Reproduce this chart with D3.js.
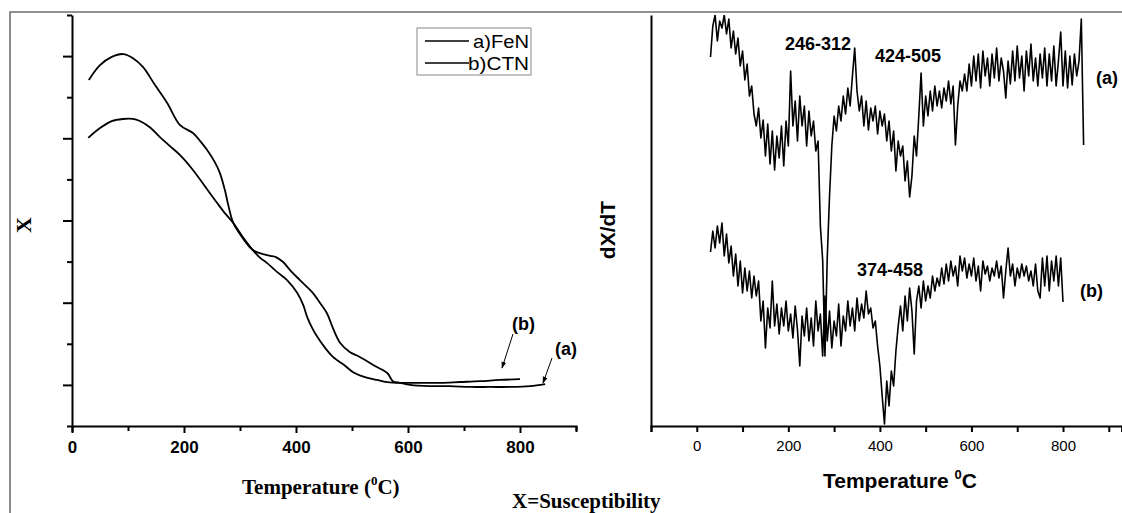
<!DOCTYPE html>
<html>
<head>
<meta charset="utf-8">
<script src="https://cdn.jsdelivr.net/npm/d3@7/dist/d3.min.js"></script>
<style>
  html, body { margin: 0; padding: 0; background: #fff; }
  svg { display: block; }
</style>
</head>
<body>
<svg id="chart" width="1122" height="513"></svg>
<script>
// ---------------- DATA ----------------
// Left panel: susceptibility X (arbitrary units) vs temperature (°C)
const fenTemp = [30,50,71,91,109,127,148,170,193,216,229,241,255,264,273,279,288,305,323,341,354,364,377,389,407,430,443,455,466,479,496,514,541,563,573,586,604,639,675,711,746,782,818,845];
const fenX    = [7.42,7.78,7.98,8.05,7.95,7.73,7.30,6.86,6.32,6.13,5.93,5.72,5.42,5.16,4.74,4.38,3.94,3.57,3.28,3.18,3.14,3.11,2.99,2.80,2.55,2.24,1.99,1.75,1.38,1.02,0.80,0.68,0.46,0.29,0.09,0.05,0.0,-0.03,-0.03,-0.05,-0.05,-0.05,-0.03,0.02];

const ctnTemp = [29,50,71,91,109,121,139,157,175,193,216,238,259,273,288,305,323,336,348,366,384,402,413,420,429,438,452,466,488,502,523,545,563,586,621,657,693,729,764,800];
const ctnX    = [6.01,6.25,6.42,6.47,6.47,6.42,6.27,6.03,5.81,5.59,5.23,4.82,4.43,4.18,3.94,3.60,3.28,3.09,2.97,2.75,2.55,2.24,1.94,1.65,1.38,1.17,0.90,0.68,0.46,0.31,0.19,0.12,0.07,0.05,0.05,0.05,0.07,0.09,0.12,0.14];

// Right panel: dX/dT (arbitrary units), sampled every 5 °C starting at 30 °C
const dTempA0 = 30, dTempB0 = 30, dStep = 5;
const dxdtA = [
  369,400,411,385,405,398,411,392,407,378,
  395,372,388,360,375,346,362,330,340,312,
  300,318,288,306,270,302,262,295,256,290,
  268,300,260,305,280,355,300,325,285,330,
  300,320,280,315,290,305,275,285,200,166,
  70,168,230,280,310,295,320,305,330,312,
  338,320,350,378,335,315,330,300,325,296,
  318,305,320,292,315,300,312,285,305,275,
  295,255,285,270,280,245,265,229,250,290,
  270,310,353,300,330,310,335,315,340,320,
  335,318,338,325,345,322,340,281,320,345,
  335,352,335,362,340,370,345,372,338,375,
  350,368,340,372,348,378,345,368,355,328,
  365,342,375,345,380,348,370,335,375,350,
  382,345,368,340,372,348,378,340,372,345,
  380,340,365,394,340,375,338,370,341,372,
  350,365,407,281];
const dxdtB = [
  174,195,178,200,183,203,170,192,163,180,
  150,172,140,165,133,158,135,155,128,150,
  130,145,105,125,78,118,98,145,100,122,
  92,118,100,125,95,112,88,120,96,60,
  110,90,118,85,108,80,125,95,112,70,
  130,85,115,78,105,90,122,80,110,95,
  125,100,118,95,128,105,122,108,135,112,
  118,98,105,80,60,30,2,45,20,55,
  40,75,100,120,95,130,105,138,115,72,
  125,140,118,145,125,140,128,150,135,148,
  140,158,142,162,145,165,150,160,140,170,
  155,168,148,162,150,168,145,160,135,165,
  152,160,145,158,150,165,148,160,128,155,
  178,150,162,140,158,148,162,150,160,145,
  155,140,162,135,128,168,140,170,135,165,
  145,170,140,168,124];

// Tick values / labels
const leftXTicks  = [0,100,200,300,400,500,600,700,800,900];
const leftYTicks  = [-1,0,1,2,3,4,5,6,7,8,9];
const rightXTicks = [-100,0,100,200,300,400,500,600,700,800,900];
const legendLabels = ["a)FeN","b)CTN"];

// ---------------- DRAWING ----------------
const svg = d3.select("#chart");
const fontSans = "'Liberation Sans', Arial, sans-serif";
const fontSerif = "'Liberation Serif', 'Times New Roman', serif";

// outer frame
svg.append("path").attr("d","M10,520 L10,12 L1130,12")
  .attr("fill","none").attr("stroke","#6e6e6e").attr("stroke-width",1.6);

// scales
const xL = d3.scaleLinear().domain([0,900]).range([72,576]);
const yL = d3.scaleLinear().domain([-1,9]).range([426,15]);
const xR = d3.scaleLinear().domain([-100,928]).range([651,1121.6]);
const yR = d3.scaleLinear().domain([0,411]).range([426,15]);

// ---- Left axes ----
const gxL = svg.append("g").attr("transform","translate(0,426)")
  .call(d3.axisBottom(xL).tickValues(leftXTicks).tickSizeOuter(0).tickSize(6)
    .tickFormat(d => d % 200 === 0 && d <= 800 ? d : ""));
gxL.select(".domain").attr("stroke","#000").attr("stroke-width",2);
gxL.selectAll(".tick line").attr("stroke","#000").attr("stroke-width",2)
  .attr("y2", d => d % 200 === 0 ? 7 : 5);
gxL.selectAll(".tick text").attr("font-family",fontSans).attr("font-weight","bold")
  .attr("font-size",17).attr("fill","#000").attr("dy",0).attr("y",27);

const gyL = svg.append("g").attr("transform","translate(72,0)")
  .call(d3.axisLeft(yL).tickValues(leftYTicks).tickSizeOuter(0).tickFormat(""));
gyL.select(".domain").attr("stroke","#000").attr("stroke-width",2);
gyL.selectAll(".tick line").attr("stroke","#000").attr("stroke-width",2)
  .attr("x2", d => d % 2 === 0 ? -9 : -5);

// ---- Left curves ----
const lineL = d3.line().x(d => xL(d[0])).y(d => yL(d[1])).curve(d3.curveCatmullRom.alpha(0.5));
svg.append("path").datum(d3.zip(fenTemp, fenX)).attr("d", lineL)
  .attr("fill","none").attr("stroke","#000").attr("stroke-width",1.8);
svg.append("path").datum(d3.zip(ctnTemp, ctnX)).attr("d", lineL)
  .attr("fill","none").attr("stroke","#000").attr("stroke-width",1.8);

// legend
const lg = svg.append("g");
lg.append("rect").attr("x",417).attr("y",28).attr("width",114).attr("height",47)
  .attr("fill","#fff").attr("stroke","#888").attr("stroke-width",1);
legendLabels.forEach((t,i) => {
  const yy = 41 + i*22;
  lg.append("line").attr("x1",425).attr("x2",469).attr("y1",yy).attr("y2",yy)
    .attr("stroke","#000").attr("stroke-width",1.7);
  lg.append("text").attr("x", i === 0 ? 473 : 468).attr("y", yy + 7)
    .attr("font-family",fontSans).attr("font-size",19).attr("fill","#000")
    .attr("textLength", i === 0 ? 56 : 61).attr("lengthAdjust","spacingAndGlyphs").text(t);
});

// arrows + labels on left panel
const defs = svg.append("defs");
defs.append("marker").attr("id","arr").attr("viewBox","0 0 10 10").attr("refX",9).attr("refY",5)
  .attr("markerWidth",7).attr("markerHeight",7).attr("orient","auto")
  .append("path").attr("d","M0,1.5 L10,5 L0,8.5 Z").attr("fill","#000");
const annL = [
  {lab:"(b)", tx:512, ty:330, x1:513, y1:334, x2:502, y2:368},
  {lab:"(a)", tx:555, ty:355, x1:552, y1:358, x2:543, y2:383}
];
annL.forEach(a => {
  svg.append("text").attr("x",a.tx).attr("y",a.ty).attr("font-family",fontSans)
    .attr("font-weight","bold").attr("font-size",18).text(a.lab);
  svg.append("line").attr("x1",a.x1).attr("y1",a.y1).attr("x2",a.x2).attr("y2",a.y2)
    .attr("stroke","#000").attr("stroke-width",1).attr("marker-end","url(#arr)");
});

// left titles
svg.append("text").attr("transform","translate(31,225) rotate(-90)").attr("text-anchor","middle")
  .attr("font-family",fontSerif).attr("font-weight","bold").attr("font-size",22).text("X");
const tl = svg.append("text").attr("x",242).attr("y",494).attr("font-family",fontSerif)
  .attr("font-weight","bold").attr("font-size",21);
tl.append("tspan").text("Temperature (");
tl.append("tspan").attr("font-size",13).attr("dy",-9).text("0");
tl.append("tspan").attr("dy",9).text("C)");
svg.append("text").attr("x",512).attr("y",508).attr("font-family",fontSerif)
  .attr("font-weight","bold").attr("font-size",21).text("X=Susceptibility");

// ---- Right axes ----
const gxR = svg.append("g").attr("transform","translate(0,426)")
  .call(d3.axisBottom(xR).tickValues(rightXTicks).tickSizeOuter(0).tickSize(6)
    .tickFormat(d => (d >= 0 && d <= 800 && d % 200 === 0) ? d : ""));
gxR.select(".domain").attr("stroke","#000").attr("stroke-width",2);
gxR.selectAll(".tick line").attr("stroke","#000").attr("stroke-width",2);
gxR.selectAll(".tick text").attr("font-family",fontSans).attr("font-size",15)
  .attr("fill","#000").attr("dy",0).attr("y",25);

const gyR = svg.append("g").attr("transform","translate(651,0)")
  .call(d3.axisLeft(yR).tickValues([]).tickSizeOuter(0));
gyR.select(".domain").attr("stroke","#000").attr("stroke-width",2);

// ---- Right curves ----
defs.append("clipPath").attr("id","clipR").append("rect")
  .attr("x",652).attr("y",15).attr("width",470).attr("height",411);
const lineR = d3.line().x(d => xR(d[0])).y(d => yR(d[1]));
const seriesA = dxdtA.map((v,i) => [dTempA0 + i*dStep, v]);
const seriesB = dxdtB.map((v,i) => [dTempB0 + i*dStep, v]);
const gR = svg.append("g").attr("clip-path","url(#clipR)");
gR.append("path").datum(seriesA).attr("d", lineR).attr("fill","none")
  .attr("stroke","#000").attr("stroke-width",1.6).attr("stroke-linejoin","round");
gR.append("path").datum(seriesB).attr("d", lineR).attr("fill","none")
  .attr("stroke","#000").attr("stroke-width",1.6).attr("stroke-linejoin","round");

// right annotations
const annR = [
  {t:"246-312", x:785, y:50},
  {t:"424-505", x:875, y:62},
  {t:"(a)", x:1096, y:84},
  {t:"374-458", x:857, y:276},
  {t:"(b)", x:1080, y:297}
];
annR.forEach(a => svg.append("text").attr("x",a.x).attr("y",a.y).attr("font-family",fontSans)
  .attr("font-weight","bold").attr("font-size",18).text(a.t));

// right titles
svg.append("text").attr("transform","translate(615,230) rotate(-90)").attr("text-anchor","middle")
  .attr("font-family",fontSans).attr("font-weight","bold").attr("font-size",21).text("dX/dT");
const tr = svg.append("text").attr("x",823).attr("y",488).attr("font-family",fontSans)
  .attr("font-weight","bold").attr("font-size",21);
tr.append("tspan").text("Temperature ");
tr.append("tspan").attr("font-size",13).attr("dy",-9).text("0");
tr.append("tspan").attr("dy",9).text("C");
</script>
</body>
</html>
